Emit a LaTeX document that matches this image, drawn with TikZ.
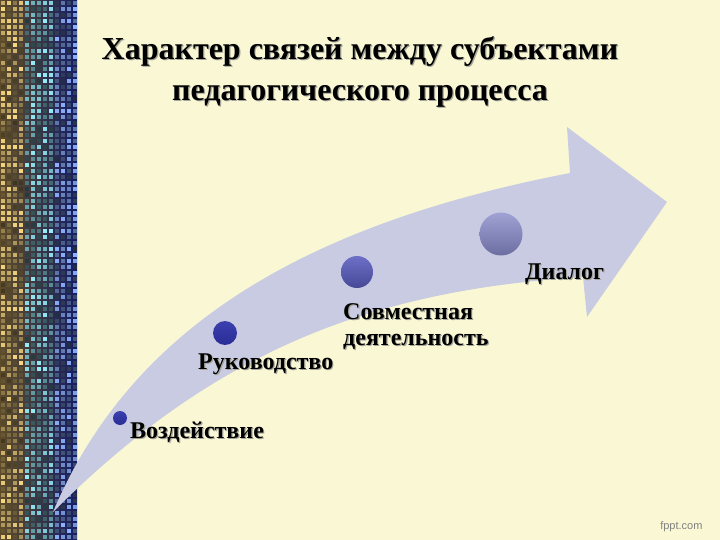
\documentclass[tikz,border=0pt]{standalone}
\usepackage{fontspec}
\setmainfont{Liberation Serif}
\newfontfamily\fpptfont{Liberation Sans}
\usetikzlibrary{positioning}

\definecolor{slidebg}{RGB}{250,248,212}
\definecolor{arrowfill}{RGB}{201,203,226}
\definecolor{stripgold}{RGB}{95,75,40}
\definecolor{stripteal}{RGB}{20,75,95}
\definecolor{stripblue}{RGB}{20,30,100}
\definecolor{dotgold}{RGB}{245,215,130}
\definecolor{dotteal}{RGB}{150,235,245}
\definecolor{dotblue}{RGB}{140,175,255}
\definecolor{shadowgray}{RGB}{165,165,155}
\definecolor{dotdeep}{RGB}{40,44,150}
\definecolor{dotdeeptop}{RGB}{60,64,175}
\definecolor{dotmidtop}{RGB}{110,112,200}
\definecolor{dotmidbot}{RGB}{70,72,150}
\definecolor{dotpaletop}{RGB}{160,162,212}
\definecolor{dotpalebot}{RGB}{108,110,162}

\newcommand{\shd}[1]{\leavevmode\rlap{\hspace{1.2pt}\raisebox{-1.2pt}{\color{shadowgray}#1}}#1}

\begin{document}
\begin{tikzpicture}[
                    x=1pt, y=-1pt,
                    stage/.style={circle, inner sep=0pt},
                    lbl/.style={font=\fontsize{24}{25.5}\selectfont\bfseries, inner sep=0pt, anchor=base west, align=left},
                    title/.style={font=\fontsize{32}{41}\selectfont\bfseries, inner sep=0pt, align=center}
                ]
                % slide
                \fill[slidebg] (0,0) rectangle (720,540);
                \shade[left color=stripgold, middle color=stripteal, right color=stripblue] (0,0) rectangle (77,540);
                \pgfmathsetseed{11}
                \foreach \i in {0,...,12}{
                    \foreach \j in {0,...,89}{
                        \pgfmathrandominteger{\lv}{25}{100}
                        \ifnum\i<4 \def\dc{dotgold}\else\ifnum\i<9 \def\dc{dotteal}\else\def\dc{dotblue}\fi\fi
                        \fill[\dc!\lv!black] (\i*6+1,\j*6+1) rectangle ++(4,4);
                    }
                }

                % arrow
                \fill[arrowfill] (53,512) .. controls (130,330) and (300,225) .. (570,173)
                    -- (567,127) -- (667,202) -- (587,317) -- (583,277)
                    .. controls (380,290) and (220,345) .. (53,512) -- cycle;

                \node[title] (head) at (360,36) [anchor=north]
                    {\shd{Характер связей между субъектами}\\ \shd{педагогического процесса}};

                \node[stage, minimum size=14pt, top color=dotdeeptop, bottom color=dotdeep] (impact)   at (120,418) {};
                \node[stage, minimum size=24pt, top color=dotdeeptop, bottom color=dotdeep] (guidance) at (225,333) {};
                \node[stage, minimum size=32pt, top color=dotmidtop, bottom color=dotmidbot] (joint)  at (357,272) {};
                \node[stage, minimum size=43pt, top color=dotpaletop, bottom color=dotpalebot] (dialog) at (501,234) {};

                \node[lbl] (impacttext)   at ([xshift=10pt,yshift=-20pt]impact.center)    {\shd{Воздействие}};
                \node[lbl] (guidancetext) at ([xshift=-27pt,yshift=-36pt]guidance.center) {\shd{Руководство}};
                \node[lbl] (jointtext)    at ([xshift=-14pt,yshift=-73pt]joint.center)    {\shd{Совместная}\\ \shd{деятельность}};
                \node[lbl] (dialogtext)   at ([xshift=24pt,yshift=-45pt]dialog.center)    {\shd{Диалог}};

                \node[font=\fpptfont\fontsize{11}{13}\selectfont, text=gray, anchor=base east] (brand) at (706,529) {fppt.com};
            \end{tikzpicture}
\end{document}
